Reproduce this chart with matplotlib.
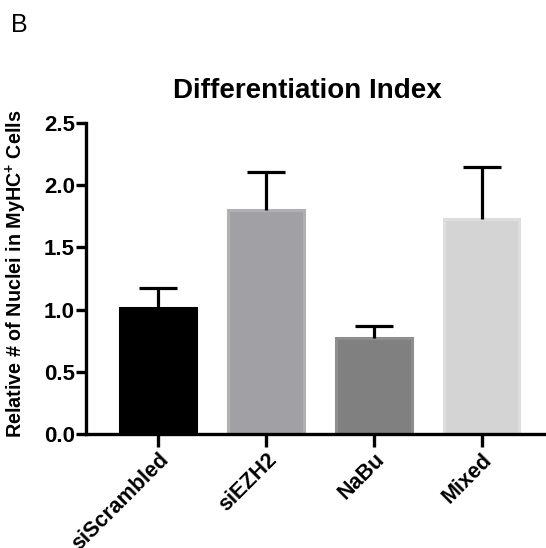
import matplotlib
matplotlib.use("Agg")
import matplotlib.pyplot as plt
import matplotlib.transforms as mtransforms

plt.rcParams['font.family'] = ['Liberation Sans', 'DejaVu Sans']
plt.rcParams['mathtext.fontset'] = 'custom'
plt.rcParams['mathtext.rm'] = 'Liberation Sans'
plt.rcParams['mathtext.bf'] = 'Liberation Sans:bold'

categories = ["siScrambled", "siEZH2", "NaBu", "Mixed"]
means = [1.01, 1.80, 0.77, 1.73]
errors = [0.16, 0.31, 0.095, 0.42]
fill_colors = ["#000000", "#a1a0a4", "#808080", "#d4d4d4"]
edge_colors = ["#000000", "#b0b0b2", "#8e8e8e", "#dedede"]

fig = plt.figure(figsize=(5.46, 5.48), dpi=100)
ax = fig.add_axes([0.1575, 0.208, 0.845, 0.5675])

x = list(range(len(categories)))
ax.bar(x, means, width=0.70, color=fill_colors, edgecolor=edge_colors, linewidth=2.2, zorder=2)
_, caps, _ = ax.errorbar(x, means, yerr=[[0] * len(errors), errors], fmt='none', ecolor='black',
                         elinewidth=2.3, capsize=13.5, capthick=2.3, zorder=3)
# only the upper half of the error bar is shown
caps[0].set_visible(False)

ax.set_xlim(-0.67, 3.61)
ax.set_ylim(0, 2.5)
ax.set_yticks([0.0, 0.5, 1.0, 1.5, 2.0, 2.5])
ax.set_yticklabels(["0.0", "0.5", "1.0", "1.5", "2.0", "2.5"], fontsize=16, fontweight='bold')
ax.set_xticks(x)
ax.set_xticklabels(categories, rotation=45, ha='right', rotation_mode='anchor',
                   fontsize=15.5, fontweight='bold')
shift = mtransforms.ScaledTranslation(-4 / 100, 0, fig.dpi_scale_trans)
for lbl in ax.get_xticklabels():
    lbl.set_transform(lbl.get_transform() + shift)

for side in ['top', 'right']:
    ax.spines[side].set_visible(False)
for side in ['left', 'bottom']:
    ax.spines[side].set_linewidth(2.4)
ax.tick_params(axis='y', width=2.4, length=7, pad=1)
ax.tick_params(axis='x', width=2.4, length=9, pad=2)

ax.set_ylabel("Relative # of Nuclei in MyHC$^{\\mathbf{+}}$ Cells", fontsize=14.2,
              fontweight='bold')
ax.yaxis.set_label_coords(-0.124, 0.516)
ax.set_title("Differentiation Index", fontsize=20, fontweight='bold', pad=18, x=0.48)

fig.text(0.021, 0.942, "B", fontsize=18)

fig.savefig("out.png", dpi=100)
